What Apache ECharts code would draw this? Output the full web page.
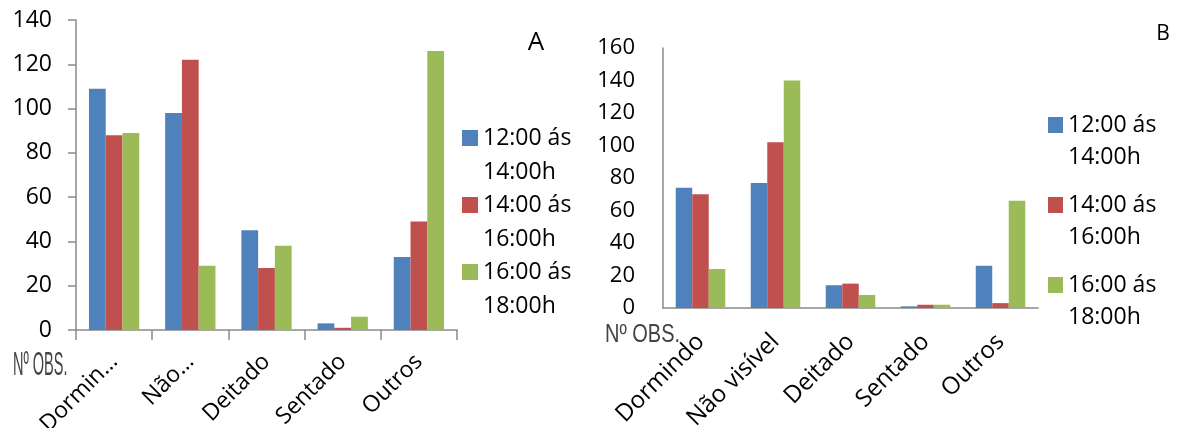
<!DOCTYPE html>
<html>
<head>
<meta charset="utf-8">
<script src="https://cdn.jsdelivr.net/npm/echarts@6/dist/echarts.min.js"></script>
<style>
html,body{margin:0;padding:0;background:#fff;}
#chart{width:1177px;height:428px;}
</style>
</head>
<body>
<div id="chart"></div>
<script>
// ---- data ----
var categories = ['Dormindo', 'Não visível', 'Deitado', 'Sentado', 'Outros'];
var leftTickLabels = ['Dormin…', 'Não…', 'Deitado', 'Sentado', 'Outros'];
var rightTickLabels = ['Dormindo', 'Não visível', 'Deitado', 'Sentado', 'Outros'];
var seriesNames = ['12:00 ás\n14:00h', '14:00 ás\n16:00h', '16:00 ás\n18:00h'];
var leftS1 = [109, 98, 45, 3, 33];
var leftS2 = [88, 122, 28, 1, 49];
var leftS3 = [89, 29, 38, 6, 126];
var rightS1 = [74, 77, 14, 1, 26];
var rightS2 = [70, 102, 15, 2, 3];
var rightS3 = [24, 140, 8, 2, 66];
var leftYTicks = {min: 0, max: 140, interval: 20};
var rightYTicks = {min: 0, max: 160, interval: 20};

var colors = ['#4F81BD', '#C0504D', '#9BBB59'];
var FONT = 'Open Sans';
var axisGray = '#8a8a8a';

var chart = echarts.init(document.getElementById('chart'), null, {renderer: 'canvas'});

function mkBar(name, data, idx, color) {
  return {
    name: name, type: 'bar', data: data,
    xAxisIndex: idx, yAxisIndex: idx,
    barGap: '0%', barCategoryGap: '34%',
    itemStyle: {color: color},
    emphasis: {disabled: true},
    animation: false
  };
}

var option = {
  backgroundColor: '#ffffff',
  animation: false,
  color: colors,
  grid: [
    {left: 76, top: 20, width: 381, height: 310, containLabel: false, outerBoundsMode: 'none'},
    {left: 663, top: 48, width: 375, height: 260, containLabel: false, outerBoundsMode: 'none'}
  ],
  xAxis: [
    {
      type: 'category', gridIndex: 0, data: categories,
      axisLine: {show: true, lineStyle: {color: axisGray, width: 1.5}},
      axisTick: {show: true, length: 10, lineStyle: {color: axisGray, width: 1.5}},
      axisLabel: {
        rotate: 45, margin: 28, interval: 0,
        fontFamily: FONT, fontSize: 23, color: '#000',
        formatter: function (v, i) { return leftTickLabels[i]; }
      },
      splitLine: {show: false}
    },
    {
      type: 'category', gridIndex: 1, data: categories,
      axisLine: {show: true, lineStyle: {color: axisGray, width: 1.5}},
      axisTick: {show: false},
      axisLabel: {
        rotate: 45, margin: 30, interval: 0,
        fontFamily: FONT, fontSize: 24, color: '#000',
        formatter: function (v, i) { return rightTickLabels[i]; }
      },
      splitLine: {show: false}
    }
  ],
  yAxis: [
    {
      type: 'value', gridIndex: 0,
      min: leftYTicks.min, max: leftYTicks.max, interval: leftYTicks.interval,
      axisLine: {show: true, lineStyle: {color: axisGray, width: 1.5}},
      axisTick: {show: true, inside: false, length: 8, lineStyle: {color: axisGray, width: 1.5}},
      axisLabel: {margin: 24, fontFamily: FONT, fontSize: 23, color: '#000'},
      splitLine: {show: false}
    },
    {
      type: 'value', gridIndex: 1,
      min: rightYTicks.min, max: rightYTicks.max, interval: rightYTicks.interval,
      axisLine: {show: true, lineStyle: {color: axisGray, width: 1.5}},
      axisTick: {show: false},
      axisLabel: {margin: 28, fontFamily: FONT, fontSize: 22, color: '#000'},
      splitLine: {show: false}
    }
  ],
  legend: [
    {
      orient: 'vertical', left: 462, top: 87, padding: 0,
      itemWidth: 16, itemHeight: 16, itemGap: -35, icon: 'rect',
      selectedMode: false,
      data: seriesNames,
      formatter: function (name) { return ' \n' + name; },
      textStyle: {fontFamily: FONT, fontSize: 23, lineHeight: 34, color: '#000'}
    },
    {
      orient: 'vertical', left: 1048, top: 77, padding: 0,
      itemWidth: 15, itemHeight: 16, itemGap: -16, icon: 'rect',
      selectedMode: false,
      data: seriesNames,
      formatter: function (name) { return ' \n' + name; },
      textStyle: {fontFamily: FONT, fontSize: 23, lineHeight: 32, color: '#000'}
    }
  ],
  series: [
    mkBar(seriesNames[0], leftS1, 0, colors[0]),
    mkBar(seriesNames[1], leftS2, 0, colors[1]),
    mkBar(seriesNames[2], leftS3, 0, colors[2]),
    mkBar(seriesNames[0], rightS1, 1, colors[0]),
    mkBar(seriesNames[1], rightS2, 1, colors[1]),
    mkBar(seriesNames[2], rightS3, 1, colors[2])
  ],
  graphic: [
    {type: 'text', x: 536, y: 43, style: {text: 'A', fontFamily: FONT, fontSize: 26, fill: '#000', textAlign: 'center', textVerticalAlign: 'middle'}},
    {type: 'text', x: 1163, y: 34, style: {text: 'B', fontFamily: FONT, fontSize: 21, fill: '#000', textAlign: 'center', textVerticalAlign: 'middle'}},
    {type: 'text', x: 13, y: 366, scaleX: 0.44, scaleY: 1, style: {text: 'Nº OBS.', fontFamily: 'Liberation Sans', fontSize: 33, fill: '#444', textAlign: 'left', textVerticalAlign: 'middle'}},
    {type: 'text', x: 605, y: 335, scaleX: 0.8, scaleY: 1, style: {text: 'Nº OBS.', fontFamily: 'Liberation Sans', fontSize: 25, fill: '#444', textAlign: 'left', textVerticalAlign: 'middle'}}
  ]
};
chart.setOption(option);
</script>
</body>
</html>
